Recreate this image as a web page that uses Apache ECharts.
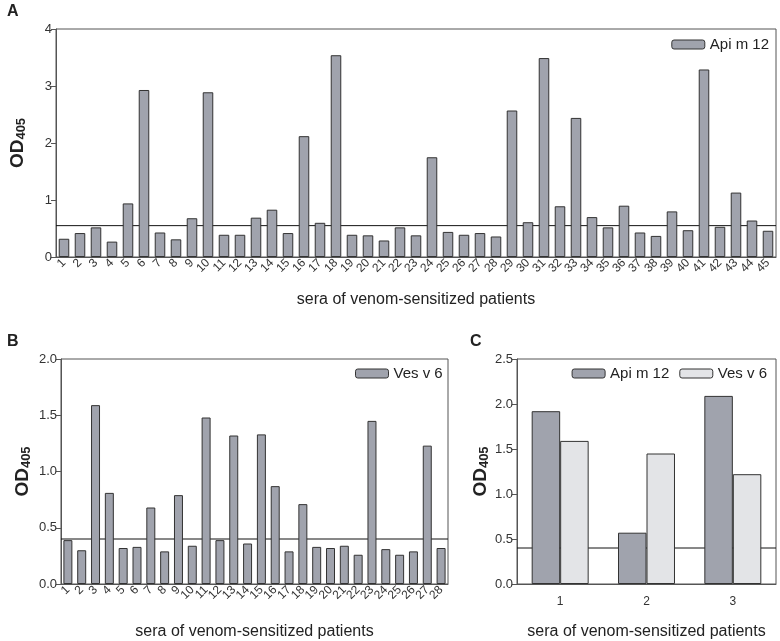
<!DOCTYPE html>
<html><head><meta charset="utf-8">
<script src="https://cdn.jsdelivr.net/npm/echarts@6/dist/echarts.min.js"></script>
<style>html,body{margin:0;padding:0;background:#fff}#c{width:780px;height:641px}</style>
</head><body><div id="c"></div>
<script>
// Panel A
var catsA = ['1','2','3','4','5','6','7','8','9','10','11','12','13','14','15','16','17','18','19','20','21','22','23','24','25','26','27','28','29','30','31','32','33','34','35','36','37','38','39','40','41','42','43','44','45'];
var apiA = [0.32,0.42,0.52,0.27,0.94,2.93,0.43,0.31,0.68,2.89,0.39,0.39,0.69,0.83,0.42,2.12,0.60,3.54,0.39,0.38,0.29,0.52,0.38,1.75,0.44,0.39,0.42,0.36,2.57,0.61,3.49,0.89,2.44,0.70,0.52,0.90,0.43,0.37,0.80,0.47,3.29,0.53,1.13,0.64,0.46];
var cutA = 0.55;
// Panel B
var catsB = ['1','2','3','4','5','6','7','8','9','10','11','12','13','14','15','16','17','18','19','20','21','22','23','24','25','26','27','28'];
var vesB = [0.39,0.30,1.59,0.81,0.32,0.33,0.68,0.29,0.79,0.34,1.48,0.39,1.32,0.36,1.33,0.87,0.29,0.71,0.33,0.32,0.34,0.26,1.45,0.31,0.26,0.29,1.23,0.32];
var cutB = 0.40;
// Panel C
var catsC = ['1','2','3'];
var apiC = [1.92,0.57,2.09];
var vesC = [1.59,1.45,1.22];
var cutC = 0.40;
var ticksA = {min:0,max:4,interval:1};
var ticksB = {min:0,max:2,interval:0.5};
var ticksC = {min:0,max:2.5,interval:0.5};
var xTitle = 'sera of venom-sensitized patients';

var FONT = 'Liberation Sans, Arial, sans-serif';
var DARK = '#a0a3ad', LIGHT = '#e3e4e7', EDGE = '#333';
var axisCol = '#555';

function yAx(idx, t, dec){
  return {gridIndex: idx, type:'value', min:t.min, max:t.max, interval:t.interval,
    axisLine:{show:true, lineStyle:{color:axisCol}}, axisTick:{show:true, length:5, lineStyle:{color:axisCol}},
    splitLine:{show:false},
    axisLabel:{color:'#333', fontSize:13, fontFamily:FONT, margin:4, formatter:function(v){return dec? v.toFixed(1): String(v);}},
    name:'{a|OD}{b|405}', nameLocation:'middle', nameRotate:90, nameGap: idx===2?24:28,
    nameTextStyle:{rich:{a:{fontSize:19,fontWeight:'bold',fontFamily:FONT,color:'#222'},b:{fontSize:13,fontWeight:'bold',fontFamily:FONT,color:'#222',verticalAlign:'bottom',padding:[8,0,0,0]}}}
  };
}
function xAx(idx, cats, rot, gap){
  return {gridIndex: idx, type:'category', data:cats,
    axisLine:{show:true, lineStyle:{color:axisCol}}, axisTick:{show:false},
    axisLabel:{color:'#333', fontSize:12, fontFamily:FONT, rotate:rot, interval:0, margin: rot?4:12},
    name:xTitle, nameLocation:'middle', nameGap:gap,
    nameTextStyle:{fontSize:16, fontFamily:FONT, color:'#222'}
  };
}
function hiddenX(idx){
  return {gridIndex: idx, type:'value', min:0, max:1, show:false};
}
function cutSeries(gi, v){
  return {type:'line', xAxisIndex:gi+3, yAxisIndex:gi, data:[[0,v],[1,v]], z:1, silent:true,
    symbol:'none', showSymbol:false, lineStyle:{color:'#111', width:1}};
}
var option = {
  animation:false,
  textStyle:{fontFamily:FONT},
  grid:[
    {left:48, right:4, top:29, height:228, show:true, borderColor:axisCol, borderWidth:1, backgroundColor:'transparent'},
    {left:48, width:400, top:359, height:228, show:true, borderColor:axisCol, borderWidth:1},
    {left:517, right:4, top:359, height:228, show:true, borderColor:axisCol, borderWidth:1}
  ],
  xAxis:[xAx(0,catsA,45,35), xAx(1,catsB,45,40), xAx(2,catsC,0,40), hiddenX(0), hiddenX(1), hiddenX(2)],
  yAxis:[yAx(0,ticksA,false), yAx(1,ticksB,true), yAx(2,ticksC,true)],
  legend:[
    {data:[{name:'Api m 12', itemStyle:{color:DARK,borderColor:EDGE,borderWidth:1}}], right:6, top:32, itemWidth:33, itemHeight:9, itemGap:8,
      textStyle:{fontSize:15,fontFamily:FONT,color:'#222'}, selectedMode:false},
    {data:[{name:'Ves v 6', itemStyle:{color:DARK,borderColor:EDGE,borderWidth:1}}], left:350, top:361, itemWidth:33, itemHeight:9,
      textStyle:{fontSize:15,fontFamily:FONT,color:'#222'}, selectedMode:false},
    {data:[{name:'Api m 12', itemStyle:{color:DARK,borderColor:EDGE,borderWidth:1}},{name:'Ves v 6', itemStyle:{color:LIGHT,borderColor:EDGE,borderWidth:1}}], right:8, top:361, itemWidth:33, itemHeight:9, itemGap:10,
      textStyle:{fontSize:15,fontFamily:FONT,color:'#222'}, selectedMode:false}
  ],
  graphic:[
    {type:'text', left:7, top:4, style:{text:'A', font:'bold 16px Liberation Sans, Arial', fill:'#222'}},
    {type:'text', left:7, top:334, style:{text:'B', font:'bold 16px Liberation Sans, Arial', fill:'#222'}},
    {type:'text', left:470, top:334, style:{text:'C', font:'bold 16px Liberation Sans, Arial', fill:'#222'}}
  ],
  series:[
    cutSeries(0, cutA), cutSeries(1, cutB), cutSeries(2, cutC),
    {name:'Api m 12', type:'bar', xAxisIndex:0, yAxisIndex:0, data:apiA, barCategoryGap:'34%', z:10,
      itemStyle:{color:DARK, borderColor:EDGE, borderWidth:1}},
    {name:'Ves v 6', type:'bar', xAxisIndex:1, yAxisIndex:1, data:vesB, barCategoryGap:'35%', z:10,
      itemStyle:{color:DARK, borderColor:EDGE, borderWidth:1}},
    {name:'Api m 12', type:'bar', xAxisIndex:2, yAxisIndex:2, data:apiC, barCategoryGap:'34%', barGap:'0%', z:10,
      itemStyle:{color:DARK, borderColor:EDGE, borderWidth:1}},
    {name:'Ves v 6', type:'bar', xAxisIndex:2, yAxisIndex:2, data:vesC, barCategoryGap:'34%', barGap:'0%', z:10,
      itemStyle:{color:LIGHT, borderColor:EDGE, borderWidth:1}}
  ]
};
var chart = echarts.init(document.getElementById('c'), null, {renderer:'canvas'});
chart.setOption(option);
</script></body></html>
